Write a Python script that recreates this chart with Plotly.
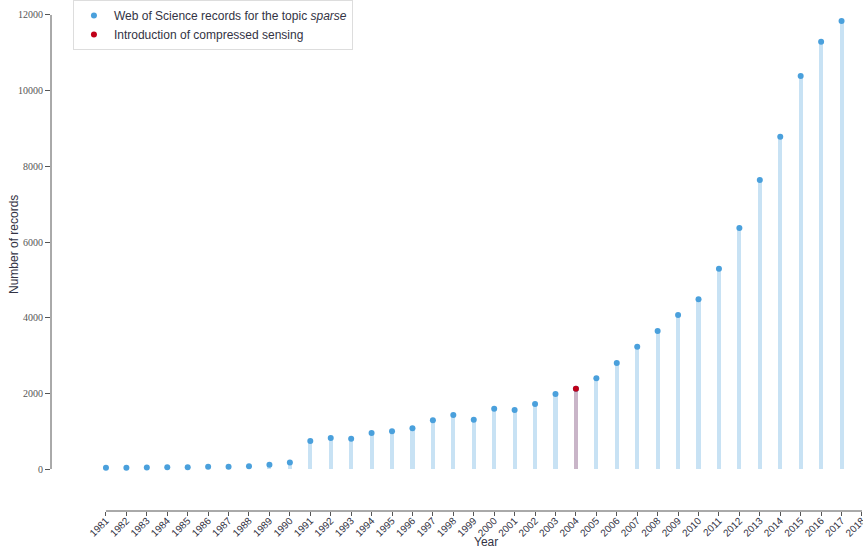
import plotly.graph_objects as go

years = list(range(1981, 2018))
records = [35, 35, 40, 45, 45, 60, 60, 70, 110, 175,
           740, 820, 800, 950, 1000, 1080, 1290, 1430, 1300, 1590,
           1560, 1720, 1980, 2120, 2400, 2800, 3230, 3650, 4070, 4490,
           5290, 6370, 7640, 8780, 10390, 11290, 11840]
cs_year = 2004
x_ticks = list(range(1981, 2019))
y_ticks = [0, 2000, 4000, 6000, 8000, 10000, 12000]

blue = '#4aa0dc'
light_blue = '#c8e2f4'
red = '#c00018'
stem_red = '#c9b5c8'

bar_colors = [stem_red if y == cs_year else light_blue for y in years]
cs_val = records[years.index(cs_year)]

fig = go.Figure()
fig.add_trace(go.Bar(x=years, y=records, width=0.2, marker=dict(color=bar_colors, line=dict(width=0)),
                     showlegend=False, hoverinfo='skip'))
fig.add_trace(go.Scatter(x=years, y=records, mode='markers',
                         marker=dict(color=blue, size=6),
                         name='Web of Science records for the topic <i>sparse</i>'))
fig.add_trace(go.Scatter(x=[cs_year], y=[cs_val], mode='markers',
                         marker=dict(color=red, size=6),
                         name='Introduction of compressed sensing'))

fig.update_layout(
    width=863, height=552,
    margin=dict(l=51, r=0, t=10, b=41, autoexpand=False),
    plot_bgcolor='white', paper_bgcolor='white',
    bargap=0,
    legend=dict(x=0.027, y=1.02, xanchor='left', yanchor='top',
                bordercolor='#dddddd', borderwidth=1, bgcolor='white',
                font=dict(family='Liberation Sans, Arial', size=12, color='#333344'),
                itemwidth=30, tracegroupgap=0),
    xaxis=dict(range=[1978.31, 2018.05], tickvals=x_ticks, ticktext=[str(t) for t in x_ticks],
               tickangle=-45, ticks='outside', ticklen=4, tickcolor='#555555',
               showgrid=False, zeroline=False, showline=False,
               ticklabeloverflow='allow', ticklabelstandoff=-5,
               tickfont=dict(family='Liberation Sans, Arial', size=10, color='#333344'),
               automargin=False),
    yaxis=dict(range=[-1110, 12132], tickvals=y_ticks, ticktext=[str(t) for t in y_ticks],
               ticks='outside', ticklen=5, tickcolor='#555555',
               showgrid=False, zeroline=False, showline=False,
               tickfont=dict(family='Liberation Serif, serif', size=10, color='#555555'),
               automargin=False),
    shapes=[
        dict(type='line', xref='paper', yref='y', x0=0, x1=0, y0=0, y1=12000,
             line=dict(color='#555555', width=1)),
        dict(type='line', xref='x', yref='paper', x0=1981, x1=2018, y0=0, y1=0,
             line=dict(color='#555555', width=1)),
    ],
    annotations=[
        dict(text='Year', xref='paper', yref='paper', x=(486-51)/812, y=-40/501,
             xanchor='center', yanchor='bottom', showarrow=False,
             font=dict(family='Liberation Sans, Arial', size=12, color='#333344')),
        dict(text='Number of records', xref='paper', yref='paper', x=-(51-14)/812, y=(511-245)/501,
             xanchor='center', yanchor='middle', showarrow=False, textangle=-90,
             font=dict(family='Liberation Sans, Arial', size=12, color='#333344')),
    ],
)

fig.write_html('out.html', config={'displayModeBar': False},
               post_script="document.body.style.margin='0';document.body.style.overflow='hidden';")
